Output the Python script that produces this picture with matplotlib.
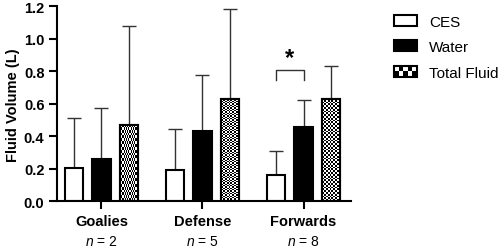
import matplotlib
matplotlib.use("Agg")
import matplotlib.pyplot as plt
import numpy as np
from matplotlib.patches import Rectangle
from matplotlib.legend_handler import HandlerBase

plt.rcParams['font.family'] = ['Liberation Sans', 'DejaVu Sans']
plt.rcParams['mathtext.fontset'] = 'custom'
plt.rcParams['mathtext.it'] = 'Liberation Sans:italic'
plt.rcParams['mathtext.rm'] = 'Liberation Sans'

groups = ['Goalies', 'Defense', 'Forwards']
group_n = [2, 5, 8]
series = ['CES', 'Water', 'Total Fluid']
ces_mean = [0.205, 0.19, 0.162]
ces_sd = [0.305, 0.255, 0.146]
water_mean = [0.262, 0.435, 0.46]
water_sd = [0.31, 0.345, 0.163]
total_mean = [0.471, 0.632, 0.63]
total_sd = [0.609, 0.553, 0.204]

means = [ces_mean, water_mean, total_mean]
sds = [ces_sd, water_sd, total_sd]
faces = ['white', 'black', 'white']

fig = plt.figure(figsize=(5.0, 2.51), dpi=100)
ax = fig.add_axes([0.114, 0.194, 0.588, 0.777])

x = np.arange(len(groups))
width = 0.18
offs = [-0.27, 0.0, 0.27]


def checker(ax, patch, n=3.4):
    bx, by = patch.get_x(), patch.get_y()
    bw, bh = patch.get_width(), patch.get_height()
    p0 = ax.transData.transform((bx, by))
    p1 = ax.transData.transform((bx + bw, by + bh))
    npx = max(1, int(round((p1[0] - p0[0]) / n)))
    npy = max(1, int(round((p1[1] - p0[1]) / n)))
    arr = (np.add.outer(np.arange(npy), np.arange(npx)) % 2).astype(float)
    im = ax.imshow(arr, cmap='gray', extent=(bx, bx + bw, by, by + bh),
                   aspect='auto', interpolation='nearest', zorder=2.5,
                   vmin=0, vmax=1)
    im.set_clip_path(patch)


for i in range(3):
    bars = ax.bar(x + offs[i], means[i], width, color=faces[i],
                  edgecolor='black', linewidth=1.5, zorder=2)
    ax.errorbar(x + offs[i], means[i],
                yerr=[np.zeros(len(groups)), sds[i]],
                fmt='none', ecolor='#333333', elinewidth=1.0,
                capsize=5, capthick=1.0, zorder=1)
    if i == 2:
        for b in bars:
            checker(ax, b)
        for b in bars:
            ax.add_patch(Rectangle((b.get_x(), b.get_y()), b.get_width(),
                                   b.get_height(), fill=False,
                                   edgecolor='black', linewidth=1.5, zorder=3))

ax.set_xlim(-0.44, 2.47)
ax.set_ylim(0, 1.2)
ax.set_yticks(np.arange(0, 1.21, 0.2))
ax.set_yticklabels([f"{v:.1f}" for v in np.arange(0, 1.21, 0.2)],
                   fontweight='bold', fontsize=10.5)
ax.set_xticks(x)
ax.set_xticklabels(groups, fontweight='bold', fontsize=10.5)
ax.set_ylabel('Fluid Volume (L)', fontweight='bold', fontsize=10.5, labelpad=3)
for s in ['top', 'right']:
    ax.spines[s].set_visible(False)
for s in ['left', 'bottom']:
    ax.spines[s].set_linewidth(1.5)
ax.tick_params(axis='both', width=1.5, length=6, direction='out', pad=3)

for xi, n in zip(x, group_n):
    ax.text(xi, -0.244, rf"$\it{{n}}$ = {n}", ha='center', va='center',
            fontsize=10, transform=ax.transData, clip_on=False)

# significance bracket (Forwards CES vs Water)
gi = 2
xa, xb = gi + offs[0], gi + offs[1]
ytop, ylow = 0.808, 0.746
ax.plot([xa, xa, xb, xb], [ylow, ytop, ytop, ylow], color='#333333',
        linewidth=1.0, clip_on=False)
ax.text((xa + xb) / 2, 0.815, '*', ha='center', va='bottom', fontsize=17,
        fontweight='bold')


class CheckerHandler(HandlerBase):
    def create_artists(self, legend, orig_handle, xdescent, ydescent,
                       width, height, fontsize, trans):
        arts = []
        cols, rows = 5, 2
        cw, ch = width / cols, height / rows
        arts.append(Rectangle((-xdescent, -ydescent), width, height,
                              facecolor='white', edgecolor='none',
                              transform=trans))
        for r in range(rows):
            for c in range(cols):
                if (r + c) % 2 == 0:
                    arts.append(Rectangle((-xdescent + c * cw, -ydescent + r * ch),
                                          cw, ch, facecolor='black',
                                          edgecolor='none', transform=trans))
        arts.append(Rectangle((-xdescent, -ydescent), width, height,
                              fill=False, edgecolor='black', linewidth=1.5,
                              transform=trans))
        return arts


h1 = Rectangle((0, 0), 1, 1, facecolor='white', edgecolor='black', linewidth=1.5)
h2 = Rectangle((0, 0), 1, 1, facecolor='black', edgecolor='black', linewidth=1.5)
h3 = Rectangle((0, 0), 1, 1, facecolor='white', edgecolor='black')
fig.legend([h1, h2, h3], series, loc='upper left',
           bbox_to_anchor=(0.776, 0.962), frameon=False, fontsize=11,
           handlelength=1.5, handleheight=0.75, handletextpad=0.8,
           labelspacing=0.75, borderaxespad=0,
           handler_map={h3: CheckerHandler()})

fig.savefig('out.png', dpi=100)
